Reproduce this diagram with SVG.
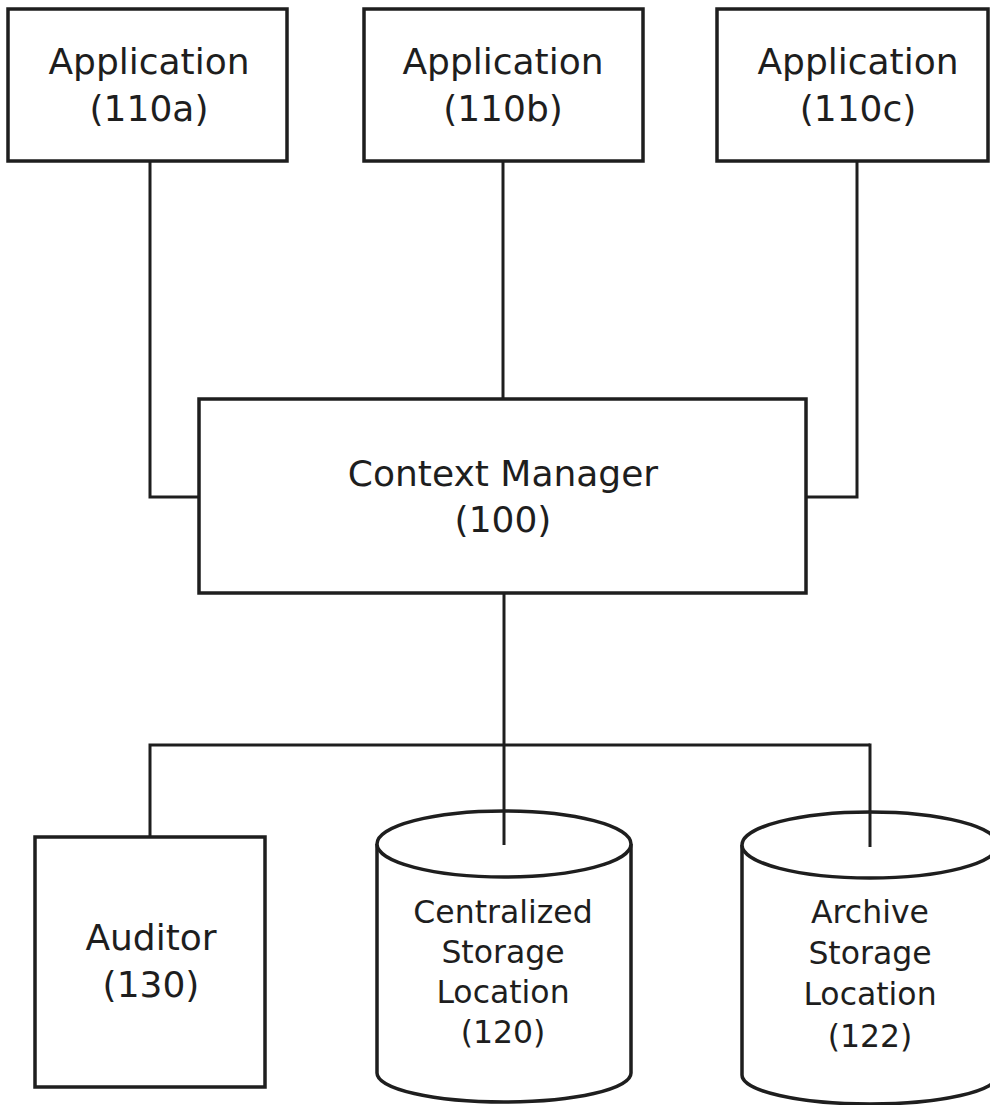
<svg xmlns="http://www.w3.org/2000/svg" width="990" height="1105" viewBox="0 0 990 1105">
<style>
.box{fill:#fff;stroke:#1e1e1e;stroke-width:3.5}
.wire{fill:none;stroke:#1e1e1e;stroke-width:3;stroke-linejoin:miter}
.t{font-family:"DejaVu Sans",sans-serif;font-size:36px;fill:#1e1e1e;text-anchor:middle}
.s{font-family:"DejaVu Sans",sans-serif;font-size:31.5px;fill:#1e1e1e;text-anchor:middle}
</style>
<rect width="990" height="1105" fill="#fff"/>
<g id="connectors">
<path class="wire" d="M150 161 V497 H199"/>
<path class="wire" d="M503 161 V399"/>
<path class="wire" d="M857 161 V497 H806"/>
<path class="wire" d="M504 593 V745"/>
<path class="wire" d="M150 837 V745 H870"/>
</g>
<g id="app110a">
<rect class="box" x="8" y="9" width="279" height="152"/>
<text class="t" x="149" y="74">Application</text>
<text class="t" x="149" y="121">(110a)</text>
</g>
<g id="app110b">
<rect class="box" x="364" y="9" width="279" height="152"/>
<text class="t" x="503" y="74">Application</text>
<text class="t" x="503" y="121">(110b)</text>
</g>
<g id="app110c">
<rect class="box" x="717" y="9" width="271" height="152"/>
<text class="t" x="858" y="74">Application</text>
<text class="t" x="858" y="121">(110c)</text>
</g>
<g id="context100">
<rect class="box" x="199" y="399" width="607" height="194"/>
<text class="t" x="503" y="486">Context Manager</text>
<text class="t" x="503" y="532">(100)</text>
</g>
<g id="auditor130">
<rect class="box" x="35" y="837" width="230" height="250"/>
<text class="t" x="151" y="950">Auditor</text>
<text class="t" x="151" y="997">(130)</text>
</g>
<g id="storage120">
<path class="box" d="M377 844 V1073 A127 29 0 0 0 631 1073 V844"/>
<ellipse class="box" cx="504" cy="844" rx="127" ry="33"/>
<path class="wire" d="M504 745 V845"/>
<text class="s" x="503" y="923">Centralized</text>
<text class="s" x="503" y="963">Storage</text>
<text class="s" x="503" y="1003">Location</text>
<text class="s" x="503" y="1043">(120)</text>
</g>
<g id="archive122">
<path class="box" d="M742 845 V1075 A128 29 0 0 0 998 1075 V845"/>
<ellipse class="box" cx="870" cy="845" rx="128" ry="33"/>
<path class="wire" d="M870 743.5 V847"/>
<text class="s" x="870" y="923">Archive</text>
<text class="s" x="870" y="964">Storage</text>
<text class="s" x="870" y="1005">Location</text>
<text class="s" x="870" y="1047">(122)</text>
</g>
</svg>
